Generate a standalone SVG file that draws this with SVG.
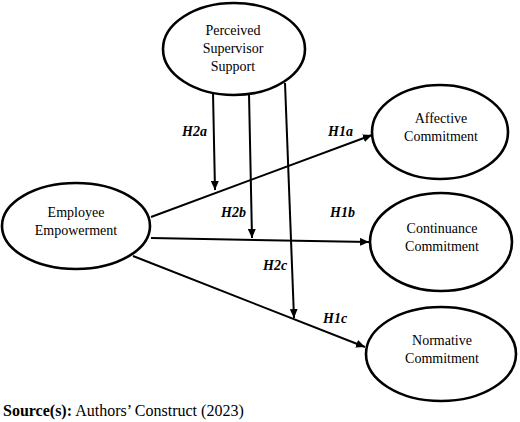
<svg xmlns="http://www.w3.org/2000/svg" width="520" height="422" viewBox="0 0 520 422">
<style>
.node{fill:#fff;stroke:#000;stroke-width:2.6}
.lbl{font-family:"Liberation Serif","Times New Roman",serif;font-size:14px;fill:#000;text-anchor:middle}
.hyp{font-family:"Liberation Serif","Times New Roman",serif;font-size:14px;font-weight:bold;font-style:italic;fill:#000}
.edge{stroke:#000;stroke-width:2;fill:none;marker-end:url(#arr)}
.src{font-family:"Liberation Serif","Times New Roman",serif;font-size:16px;fill:#000}
</style>
<defs>
<marker id="arr" markerUnits="userSpaceOnUse" markerWidth="10" markerHeight="8" refX="9" refY="4" orient="auto">
<path d="M0,0 L9,4 L0,8 Z" fill="#000"/>
</marker>
</defs>
<rect width="520" height="422" fill="#fff"/>
<g id="connectors">
<line class="edge" x1="213" y1="93" x2="215" y2="190"/>
<line class="edge" x1="249" y1="94" x2="252" y2="238"/>
<line class="edge" x1="285" y1="83" x2="294" y2="318"/>
<line class="edge" x1="151" y1="217" x2="372" y2="135"/>
<line class="edge" x1="151" y1="238" x2="369" y2="242"/>
<line class="edge" x1="133" y1="256" x2="365" y2="347"/>
</g>
<g id="labels">
<text class="hyp" x="182" y="136">H2a</text>
<text class="hyp" x="328" y="136">H1a</text>
<text class="hyp" x="221" y="217">H2b</text>
<text class="hyp" x="330" y="217">H1b</text>
<text class="hyp" x="263" y="270">H2c</text>
<text class="hyp" x="323" y="323">H1c</text>
</g>
<g id="pss">
<ellipse class="node" cx="234" cy="49" rx="71" ry="46"/>
<text class="lbl" x="233" y="35">Perceived</text>
<text class="lbl" x="233" y="53">Supervisor</text>
<text class="lbl" x="233" y="71">Support</text>
</g>
<g id="ee">
<ellipse class="node" cx="76" cy="226" rx="74" ry="43"/>
<text class="lbl" x="76" y="217">Employee</text>
<text class="lbl" x="76" y="235">Empowerment</text>
</g>
<g id="ac">
<ellipse class="node" cx="440" cy="132" rx="68" ry="47"/>
<text class="lbl" x="441" y="123">Affective</text>
<text class="lbl" x="441" y="141">Commitment</text>
</g>
<g id="cc">
<ellipse class="node" cx="441" cy="242" rx="71" ry="49"/>
<text class="lbl" x="442" y="233">Continuance</text>
<text class="lbl" x="442" y="251">Commitment</text>
</g>
<g id="nc">
<ellipse class="node" cx="441" cy="354" rx="75" ry="47"/>
<text class="lbl" x="442" y="345">Normative</text>
<text class="lbl" x="442" y="363">Commitment</text>
</g>
<text class="src" x="3" y="416"><tspan font-weight="bold">Source(s):</tspan> Authors’ Construct (2023)</text>
</svg>
